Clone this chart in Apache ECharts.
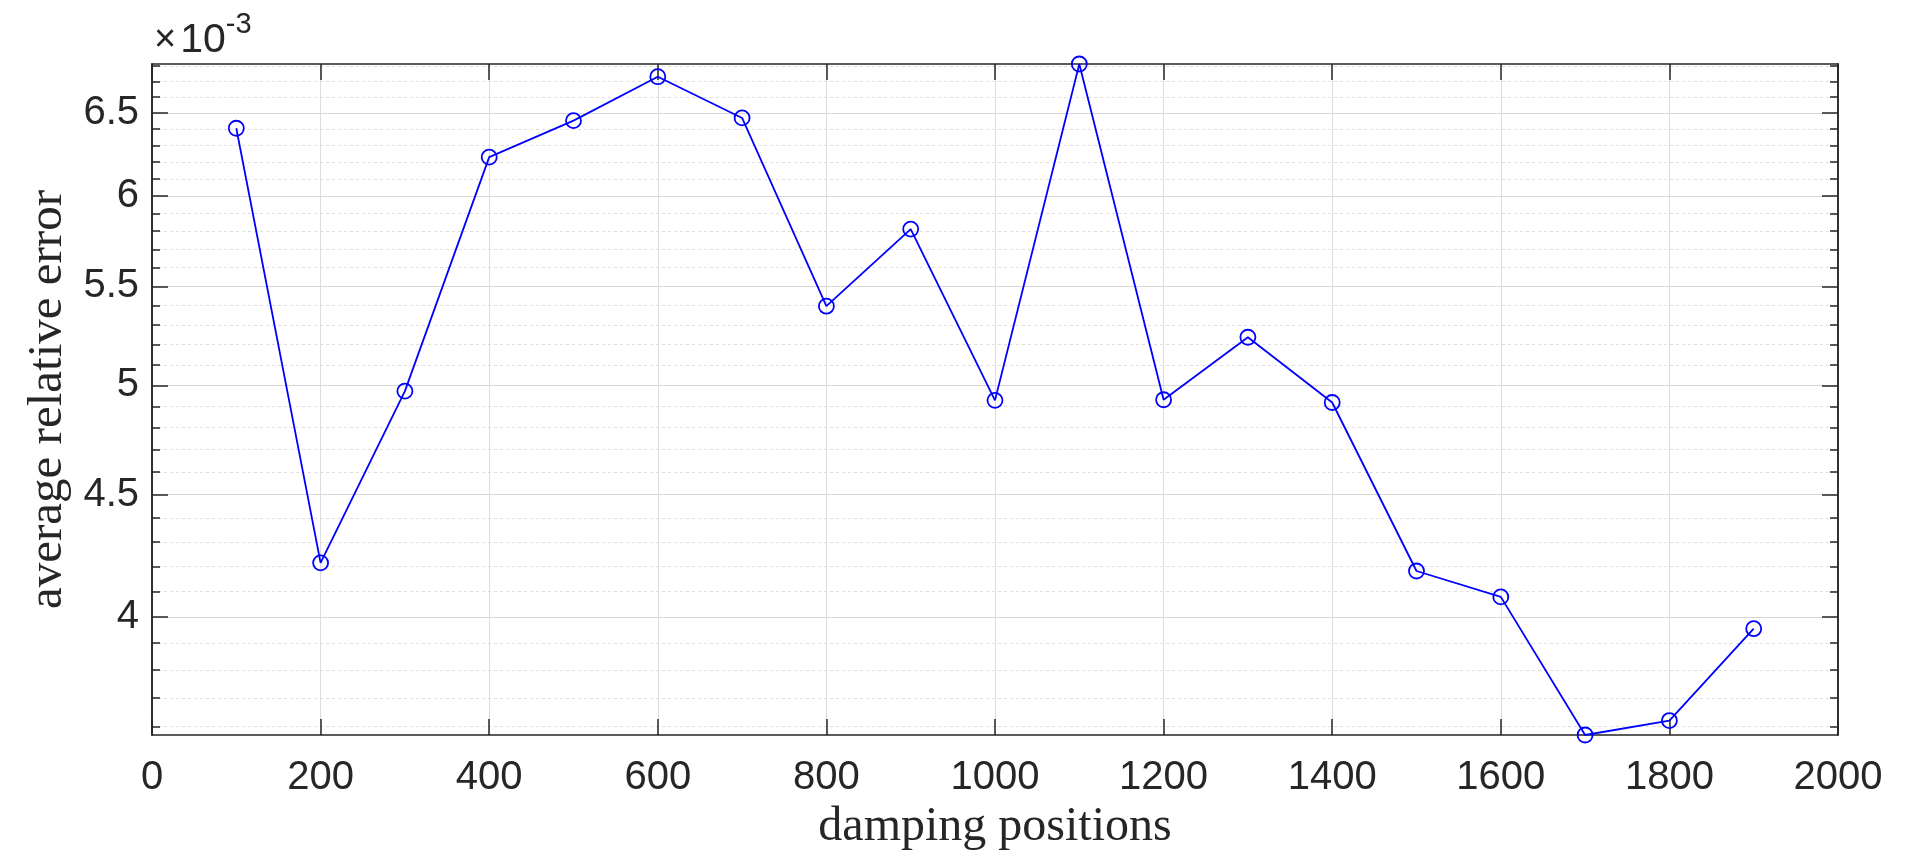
<!DOCTYPE html>
<html>
<head>
<meta charset="utf-8">
<script src="https://cdn.jsdelivr.net/npm/echarts@6/dist/echarts.min.js"></script>
<style>html,body{margin:0;padding:0;background:#fff;}#main{width:1920px;height:851px;}</style>
</head>
<body>
<div id="main"></div>
<script>
// damping positions
const positions = [100,200,300,400,500,600,700,800,900,1000,1100,1200,1300,1400,1500,1600,1700,1800,1900];
// average relative error (x 1e-3)
const errors = [6.405,4.214,4.972,6.229,6.452,6.731,6.469,5.396,5.812,4.928,6.814,4.931,5.237,4.918,4.181,4.078,3.570,3.620,3.955];
const yMajorTicks = [4,4.5,5,5.5,6,6.5];
const yMinorTicks = [3.6,3.7,3.8,3.9,4.1,4.2,4.3,4.4,4.6,4.7,4.8,4.9,5.1,5.2,5.3,5.4,5.6,5.7,5.8,5.9,6.1,6.2,6.3,6.4,6.6,6.7,6.8];
const xTicks = [0,200,400,600,800,1000,1200,1400,1600,1800,2000];

const SCALE = 1e-3;
const yVals = errors.map(v => v * SCALE);
const yMin = Math.min.apply(null, yVals);
const yMax = Math.max.apply(null, yVals);
const majorV = yMajorTicks.map(v => v * SCALE);
const minorV = yMinorTicks.map(v => v * SCALE);

const AX = '#262626';
const tickFont = 'Liberation Sans, Arial, Helvetica, sans-serif';
const serif = 'Liberation Serif, Times New Roman, serif';

function yAxisDef(pos, ticks, len, opts) {
  return Object.assign({
    type: 'log', logBase: 10, position: pos, min: yMin, max: yMax,
    axisLine: {show: true, lineStyle: {color: AX, width: 1.5}},
    axisTick: {show: true, inside: true, length: len, customValues: ticks, lineStyle: {color: AX, width: 1.5}},
    axisLabel: {show: false},
    splitLine: {show: false},
    minorTick: {show: false}, minorSplitLine: {show: false}
  }, opts || {});
}

function xAxisDef(pos, opts) {
  return Object.assign({
    type: 'value', position: pos, min: xTicks[0], max: xTicks[xTicks.length - 1], interval: xTicks[1] - xTicks[0],
    axisLine: {show: true, onZero: false, lineStyle: {color: AX, width: 1.5}},
    axisTick: {show: true, inside: true, length: 16, lineStyle: {color: AX, width: 1.5}},
    axisLabel: {show: false}, splitLine: {show: false}
  }, opts || {});
}

const chart = echarts.init(document.getElementById('main'), null, {renderer: 'canvas'});
chart.setOption({
  animation: false,
  backgroundColor: '#fff',
  grid: {left: 152, right: 82, top: 64, bottom: 116, containLabel: false, outerBoundsMode: 'none'},
  xAxis: [
    xAxisDef('bottom', {
      name: 'damping positions', nameLocation: 'middle', nameGap: 66,
      nameTextStyle: {fontFamily: serif, fontSize: 48, color: AX},
      axisLabel: {show: true, margin: 23, fontFamily: tickFont, fontSize: 40, color: AX,
        formatter: v => String(v)},
      splitLine: {show: true, lineStyle: {color: '#dcdcdc', width: 1}}
    }),
    xAxisDef('top')
  ],
  yAxis: [
    yAxisDef('left', minorV, 8, {
      splitLine: {show: true, lineStyle: {color: '#dedede', width: 1, type: [3, 3]}}
    }),
    yAxisDef('left', majorV, 16, {
      splitLine: {show: true, lineStyle: {color: '#d6d6d6', width: 1}},
      axisLabel: {show: true, customValues: majorV, margin: 13, fontFamily: tickFont, fontSize: 40, color: AX,
        formatter: v => String(Math.round(v / SCALE * 10) / 10)},
      name: 'average relative error', nameLocation: 'middle', nameGap: 78, nameRotate: 90,
      nameTextStyle: {fontFamily: serif, fontSize: 49, color: AX}
    }),
    yAxisDef('right', minorV, 8),
    yAxisDef('right', majorV, 16)
  ],
  graphic: [{
    type: 'text', left: 154, top: 10,
    style: {
      text: '{a|×}{b|10}{c|-3}',
      rich: {
        a: {fontFamily: tickFont, fontSize: 38, fill: AX, padding: [12, 4, 0, 0]},
        b: {fontFamily: tickFont, fontSize: 41, fill: AX, padding: [12, 0, 0, 0]},
        c: {fontFamily: tickFont, fontSize: 29, fill: AX, padding: [0, 0, 20, 0]}
      }
    }
  }],
  series: [{
    type: 'line', xAxisIndex: 0, yAxisIndex: 1,
    data: positions.map((p, i) => [p, yVals[i]]),
    symbol: 'circle', symbolSize: 15, showSymbol: true, clip: false,
    lineStyle: {color: '#0000ff', width: 1.8},
    itemStyle: {color: 'rgba(0,0,0,0)', borderColor: '#0000ff', borderWidth: 1.8},
    emphasis: {disabled: true}, z: 10
  }]
});
</script>
</body>
</html>
